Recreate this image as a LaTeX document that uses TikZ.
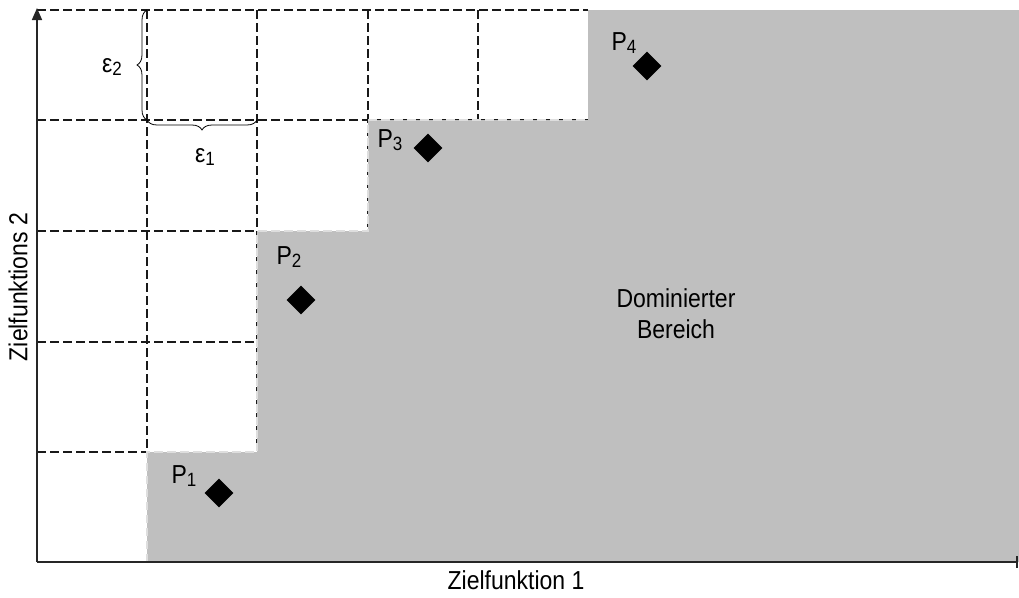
\documentclass[tikz,border=0pt]{standalone}
\usepackage{fontspec}
\usepackage{graphicx}
\setmainfont{Liberation Sans}
\usetikzlibrary{decorations.pathreplacing,arrows.meta,shapes.geometric}
\definecolor{dom}{RGB}{191,191,191}
\definecolor{gridc}{RGB}{25,25,25}
\definecolor{edgec}{RGB}{222,222,222}
\newcommand{\tx}[1]{\scalebox{1}[1.13]{#1}}
\newcommand{\sbs}[1]{\raisebox{-0.2ex}{\fontsize{17}{17}\selectfont #1}}
\begin{document}
\begin{tikzpicture}[x=1pt,y=-1pt,
  gridline/.style={draw=gridc, line width=1.2pt, dash pattern=on 8.5pt off 4.5pt},
  edgeline/.style={draw=edgec, line width=1.2pt, dash pattern=on 8.5pt off 4.5pt},
  axis/.style={draw=black!85, line width=1.6pt},
  pt/.style={diamond, fill=black, minimum size=29pt, inner sep=0pt},
  lbl/.style={font=\fontsize{23}{27}\selectfont, inner sep=0pt},
  brc/.style={draw=black, line width=0.8pt, decorate, decoration={brace, amplitude=10pt}}]
\useasboundingbox (0,0) rectangle (1019,597);
% grid
\draw[gridline] (37,10) -- (588,10);
\draw[gridline] (37,120) -- (588,120);
\draw[gridline] (37,231) -- (368,231);
\draw[gridline] (37,342) -- (257,342);
\draw[gridline] (37,452) -- (257,452);
\draw[gridline] (147,10) -- (147,452);
\draw[gridline] (257,10) -- (257,452);
\draw[gridline] (368,10) -- (368,231);
\draw[gridline] (478,10) -- (478,120);
% dominated region
\fill[dom] (147,562) -- (147,452) -- (257,452) -- (257,231) -- (368,231) -- (368,120) -- (588,120) -- (588,10) -- (1019,10) -- (1019,562) -- cycle;
\draw[edgeline] (147,562) -- (147,452) -- (257,452) -- (257,231) -- (368,231) -- (368,120) -- (588,120);
% axes
\coordinate (o) at (37,562);
\coordinate (ytop) at (37,8);
\coordinate (xend) at (1018,562);
\draw[axis, -{Triangle[length=12pt,width=10pt]}] (o) -- (ytop);
\draw[axis, -{Bar[width=12pt]}] (o) -- (xend);
\node[lbl] (xl) at (516,580) {\tx{Zielfunktion 1}};
\node[lbl, rotate=90] (yl) at (18,287) {\tx{Zielfunktions 2}};
% braces
\coordinate (b2a) at (147,120);
\coordinate (b2b) at (147,10);
\draw[brc] (b2a) -- (b2b);
\coordinate (b1a) at (257,120);
\coordinate (b1b) at (147,120);
\draw[brc] (b1a) -- (b1b);
\node[lbl] (e2) at (112,67) {\tx{ε\sbs{2}}};
\node[lbl] (e1) at (205,157) {\tx{ε\sbs{1}}};
% points
\node[pt] (p1) at (219,493) {};
\node[pt] (p2) at (301,300) {};
\node[pt] (p3) at (428,148) {};
\node[pt] (p4) at (647,66) {};
\node[lbl] (l1) at (184,476) {\tx{P\sbs{1}}};
\node[lbl] (l2) at (289,257) {\tx{P\sbs{2}}};
\node[lbl] (l3) at (390,140) {\tx{P\sbs{3}}};
\node[lbl] (l4) at (624,43) {\tx{P\sbs{4}}};
\node[lbl] (dom1) at (676,298) {\tx{Dominierter}};
\node[lbl] (dom2) at (676,329) {\tx{Bereich}};
\end{tikzpicture}
\end{document}
